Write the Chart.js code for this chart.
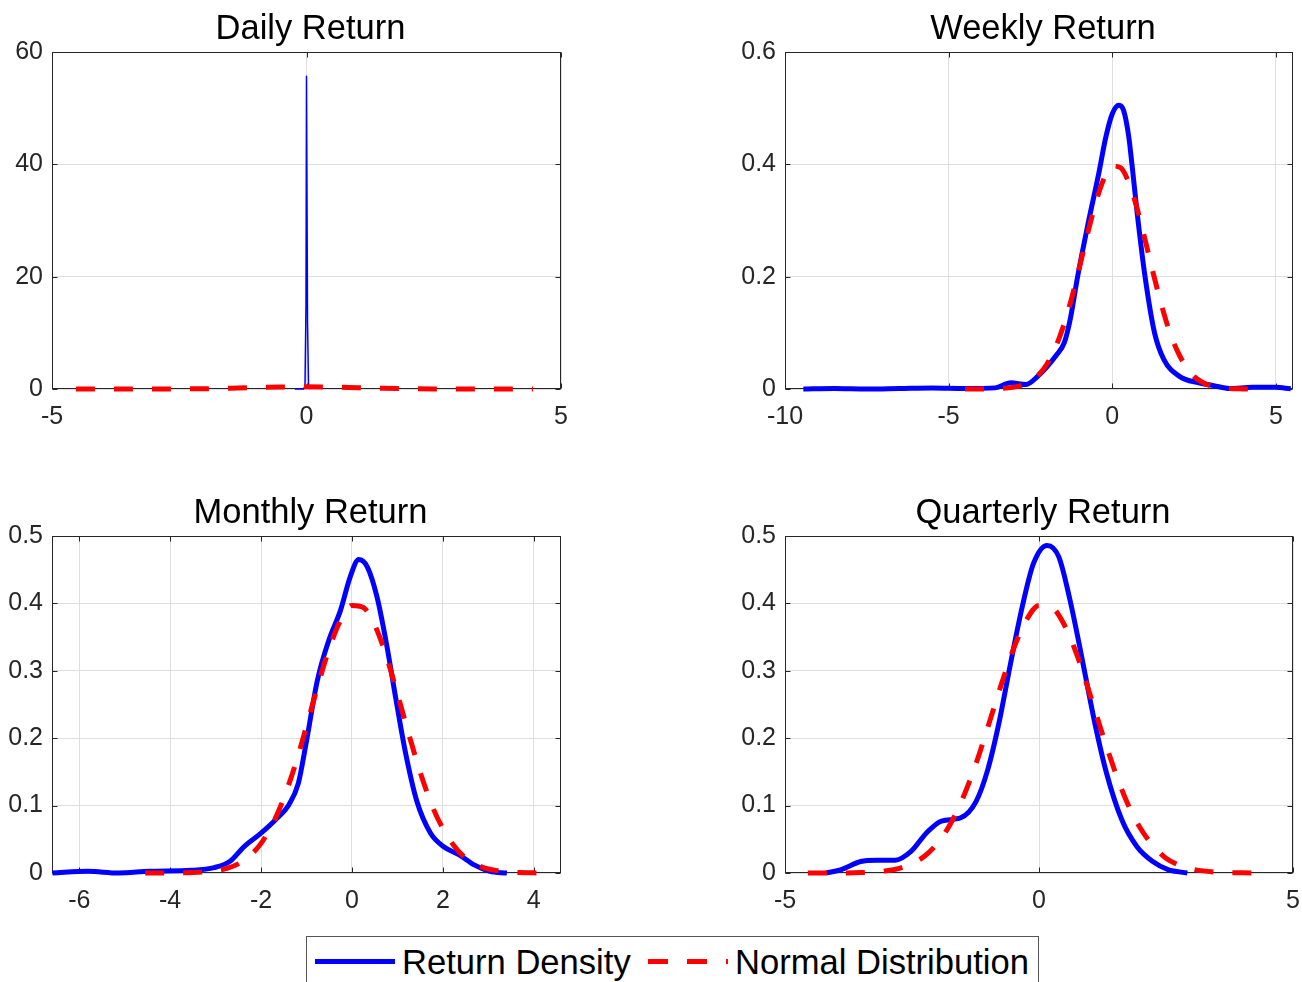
<!DOCTYPE html>
<html>
<head>
<meta charset="utf-8">
<script src="https://cdn.jsdelivr.net/npm/chart.js@4.4.0/dist/chart.umd.min.js"></script>
<style>
html,body{margin:0;padding:0;background:#fff;}
#wrap{position:relative;width:1302px;height:982px;overflow:hidden;background:#fff;font-family:"Liberation Sans",Arial,Helvetica,sans-serif;}
.panel{position:absolute;}
.panel canvas{display:block;}
#legend{position:absolute;left:306px;top:936px;width:733px;height:70px;border:1px solid #555;box-sizing:border-box;background:#fff;}
#legend .ln{position:absolute;top:22px;height:5px;width:80px;}
#legend .tx{position:absolute;top:8px;font-size:34.6px;line-height:34px;color:#000;white-space:nowrap;}
</style>
</head>
<body>
<div id="wrap">
  <div class="panel" style="left:0;top:0;"><canvas id="c1" width="600" height="450"></canvas></div>
  <div class="panel" style="left:733px;top:0;"><canvas id="c2" width="569" height="450"></canvas></div>
  <div class="panel" style="left:0;top:484px;"><canvas id="c3" width="600" height="450"></canvas></div>
  <div class="panel" style="left:733px;top:484px;"><canvas id="c4" width="569" height="450"></canvas></div>
  <div id="legend">
    <div class="ln" style="left:8px;background:#0000ff;"></div>
    <div class="tx" style="left:95px;">Return Density</div>
    <div class="ln" style="left:341px;background:repeating-linear-gradient(to right,#ff0000 0px,#ff0000 20px,transparent 20px,transparent 39px);"></div>
    <div class="tx" style="left:428px;">Normal Distribution</div>
  </div>
</div>
<script>
// ---------- data ----------
const titles = ["Daily Return", "Weekly Return", "Monthly Return", "Quarterly Return"];
const seriesNames = ["Return Density", "Normal Distribution"];

// Daily
const dailyX = [-0.23, -0.06, -0.03, -0.01, 0.0, 0.02, 0.04, 0.08];
const dailyY = [0, 0, 0.4, 15, 55.7, 12, 0.4, 0];
const dailyNormX = [-4.53, -4, -3.5, -3, -2.5, -2, -1.5, -1, -0.5, 0, 0.5, 1, 1.5, 2, 2.5, 3, 3.5, 4, 4.45];
const dailyNormY = [0.000, 0.000, 0.001, 0.004, 0.018, 0.054, 0.130, 0.242, 0.352, 0.399, 0.352, 0.242, 0.130, 0.054, 0.018, 0.004, 0.001, 0.000, 0.000];
const dailyXTicks = [-5, 0, 5];
const dailyYTicks = [0, 20, 40, 60];

// Weekly
const weeklyX = [-9.44, -8.5, -7.5, -6.5, -5.5, -4.5, -3.58, -3.1, -2.64, -2.29, -1.70, -1.47, -1.29, -1.06, -0.76, -0.41, -0.2, 0.0, 0.2, 0.35, 0.5, 0.6, 0.76, 1.0, 1.29, 1.58, 2.05, 2.64, 3.1, 3.58, 4.28, 4.98, 5.45];
const weeklyY = [0.000, 0.001, 0.000, 0.001, 0.002, 0.001, 0.002, 0.011, 0.008, 0.022, 0.061, 0.082, 0.123, 0.200, 0.289, 0.385, 0.448, 0.490, 0.505, 0.495, 0.450, 0.400, 0.313, 0.200, 0.100, 0.052, 0.0225, 0.011, 0.006, 0.001, 0.003, 0.003, 0.0005];
const weeklyNormX = [-4.5, -4, -3.5, -3, -2.75, -2.5, -2.25, -2, -1.75, -1.5, -1.25, -1, -0.75, -0.5, -0.25, 0, 0.25, 0.5, 0.75, 1, 1.25, 1.5, 1.75, 2, 2.25, 2.5, 2.75, 3, 3.5, 4, 4.2];
const weeklyNormY = [0.000, 0.0001, 0.0006, 0.0033, 0.0069, 0.0136, 0.0252, 0.044, 0.072, 0.111, 0.160, 0.218, 0.278, 0.333, 0.375, 0.397, 0.394, 0.368, 0.323, 0.266, 0.206, 0.150, 0.102, 0.066, 0.040, 0.022, 0.012, 0.006, 0.0012, 0.0002, 0.0001];
const weeklyXTicks = [-10, -5, 0, 5];
const weeklyYTicks = [0, 0.2, 0.4, 0.6];

// Monthly
const monthlyX = [-6.59, -5.81, -5.14, -4.46, -3.54, -3.03, -2.69, -2.36, -2.02, -1.68, -1.39, -1.18, -1.01, -0.76, -0.51, -0.25, -0.04, 0.15, 0.34, 0.55, 0.76, 0.97, 1.18, 1.43, 1.73, 2.02, 2.36, 2.69, 3.03, 3.41];
const monthlyY = [0.000, 0.0025, 0.000, 0.0025, 0.004, 0.008, 0.017, 0.040, 0.058, 0.079, 0.101, 0.133, 0.192, 0.286, 0.345, 0.390, 0.439, 0.465, 0.454, 0.410, 0.340, 0.257, 0.178, 0.106, 0.059, 0.039, 0.027, 0.012, 0.0025, 0.000];
const monthlyNormX = [-4.55, -4, -3.5, -3, -2.75, -2.5, -2.25, -2, -1.75, -1.5, -1.25, -1, -0.75, -0.5, -0.25, 0, 0.25, 0.5, 0.75, 1, 1.25, 1.5, 1.75, 2, 2.25, 2.5, 2.75, 3, 3.5, 4, 4.2];
const monthlyNormY = [0.000, 0.0001, 0.0006, 0.0033, 0.0069, 0.0136, 0.0252, 0.044, 0.072, 0.111, 0.160, 0.218, 0.278, 0.333, 0.375, 0.397, 0.394, 0.368, 0.323, 0.266, 0.206, 0.150, 0.102, 0.066, 0.040, 0.022, 0.012, 0.006, 0.0012, 0.0002, 0.0001];
const monthlyXTicks = [-6, -4, -2, 0, 2, 4];
const monthlyYTicks = [0, 0.1, 0.2, 0.3, 0.4, 0.5];

// Quarterly
const quarterlyX = [-4.19, -3.89, -3.51, -3.2, -2.83, -2.52, -2.22, -1.92, -1.54, -1.24, -1.01, -0.79, -0.56, -0.33, -0.11, 0.16, 0.39, 0.61, 0.84, 1.10, 1.33, 1.63, 1.93, 2.24, 2.54, 2.92];
const quarterlyY = [0.000, 0.005, 0.017, 0.019, 0.019, 0.032, 0.059, 0.077, 0.082, 0.106, 0.153, 0.222, 0.311, 0.395, 0.459, 0.486, 0.469, 0.405, 0.321, 0.222, 0.148, 0.079, 0.039, 0.017, 0.005, 0.000];
const quarterlyNormX = [-4.55, -4, -3.5, -3, -2.75, -2.5, -2.25, -2, -1.75, -1.5, -1.25, -1, -0.75, -0.5, -0.25, 0, 0.25, 0.5, 0.75, 1, 1.25, 1.5, 1.75, 2, 2.25, 2.5, 2.75, 3, 3.5, 4, 4.35];
const quarterlyNormY = [0.000, 0.0001, 0.0006, 0.0033, 0.0069, 0.0136, 0.0252, 0.044, 0.072, 0.111, 0.160, 0.218, 0.278, 0.333, 0.375, 0.397, 0.394, 0.368, 0.323, 0.266, 0.206, 0.150, 0.102, 0.066, 0.040, 0.022, 0.012, 0.006, 0.0012, 0.0002, 0.0001];
const quarterlyXTicks = [-5, 0, 5];
const quarterlyYTicks = [0, 0.1, 0.2, 0.3, 0.4, 0.5];

// ---------- drawing ----------
const FONT = '"Liberation Sans", Arial, Helvetica, sans-serif';
const zip = (xs, ys) => xs.map((x, i) => ({x: x, y: ys[i]}));

const boxPlugin = {
  id: 'matlabBox',
  afterLayout(chart) {
    if (chart.titleBlock) { chart.titleBlock.left += 4; chart.titleBlock.right += 4; }
  },
  beforeDatasetsDraw(chart) {
    const ctx = chart.ctx, a = chart.chartArea, xs = chart.scales.x, ys = chart.scales.y;
    const L = Math.round(a.left) + 0.5, R = Math.round(a.right) - 0.5;
    const T = Math.round(a.top) + 0.5, B = Math.round(a.bottom) - 0.5;
    ctx.save();
    ctx.strokeStyle = '#262626';
    ctx.lineWidth = 1;
    ctx.strokeRect(L, T, R - L, B - T);
    const tl = 5;
    ctx.beginPath();
    xs.ticks.forEach(t => {
      const px = Math.round(xs.getPixelForValue(t.value)) + 0.5;
      ctx.moveTo(px, B); ctx.lineTo(px, B - tl);
      ctx.moveTo(px, T); ctx.lineTo(px, T + tl);
    });
    ys.ticks.forEach(t => {
      const py = Math.round(ys.getPixelForValue(t.value)) + 0.5;
      ctx.moveTo(L, py); ctx.lineTo(L + tl, py);
      ctx.moveTo(R, py); ctx.lineTo(R - tl, py);
    });
    ctx.stroke();
    ctx.restore();
  }
};

function makePanel(id, title, blue, red, blueWidth, smooth, xMin, xMax, xTicks, yMax, yTicks, padRight) {
  const tickFont = {family: FONT, size: 25};
  new Chart(document.getElementById(id), {
    type: 'line',
    data: {
      datasets: [
        {label: seriesNames[0], data: blue, borderColor: '#0000ff', borderWidth: blueWidth,
         pointRadius: 0, fill: false, clip: false, order: 1, borderJoinStyle: 'round',
         cubicInterpolationMode: smooth ? 'monotone' : 'default', tension: 0},
        {label: seriesNames[1], data: red, borderColor: '#ff0000', borderWidth: 5,
         borderDash: [19, 19], pointRadius: 0, fill: false, clip: false, order: 0,
         cubicInterpolationMode: 'monotone'}
      ]
    },
    options: {
      responsive: false,
      devicePixelRatio: 1,
      animation: false,
      events: [],
      layout: {padding: {left: 0, top: 0, right: padRight, bottom: 0}},
      plugins: {
        legend: {display: false},
        tooltip: {enabled: false},
        title: {display: true, text: title, color: '#000', fullSize: false,
                font: {family: FONT, size: 34.5, weight: 'normal'}, padding: {top: 8.6, bottom: 2}}
      },
      scales: {
        x: {
          type: 'linear', min: xMin, max: xMax,
          afterBuildTicks: s => { s.ticks = xTicks.map(v => ({value: v})); },
          afterFit: s => { s.height = 61; s.paddingLeft = 0; s.paddingRight = 0; },
          grid: {color: '#dfdfdf', lineWidth: 1, drawTicks: false},
          border: {display: false},
          ticks: {padding: 13, color: '#262626', font: tickFont, maxRotation: 0, autoSkip: false,
                  callback: v => String(v)}
        },
        y: {
          type: 'linear', min: 0, max: yMax,
          afterBuildTicks: s => { s.ticks = yTicks.map(v => ({value: v})); },
          afterFit: s => { s.width = 52; s.paddingTop = 0; s.paddingBottom = 0; },
          grid: {color: '#dfdfdf', lineWidth: 1, drawTicks: false},
          border: {display: false},
          ticks: {padding: 9, color: '#262626', font: tickFont, autoSkip: false,
                  callback: v => String(v)}
        }
      }
    },
    plugins: [boxPlugin]
  });
}

makePanel('c1', titles[0], zip(dailyX, dailyY), zip(dailyNormX, dailyNormY), 1.5, false,
          -5, 5, dailyXTicks, 60, dailyYTicks, 39);
makePanel('c2', titles[1], zip(weeklyX, weeklyY), zip(weeklyNormX, weeklyNormY), 5, true,
          -10, 5.52, weeklyXTicks, 0.6, weeklyYTicks, 9);
makePanel('c3', titles[2], zip(monthlyX, monthlyY), zip(monthlyNormX, monthlyNormY), 5, true,
          -6.6, 4.6, monthlyXTicks, 0.5, monthlyYTicks, 39);
makePanel('c4', titles[3], zip(quarterlyX, quarterlyY), zip(quarterlyNormX, quarterlyNormY), 5, true,
          -5, 5, quarterlyXTicks, 0.5, quarterlyYTicks, 9);
</script>
</body>
</html>
